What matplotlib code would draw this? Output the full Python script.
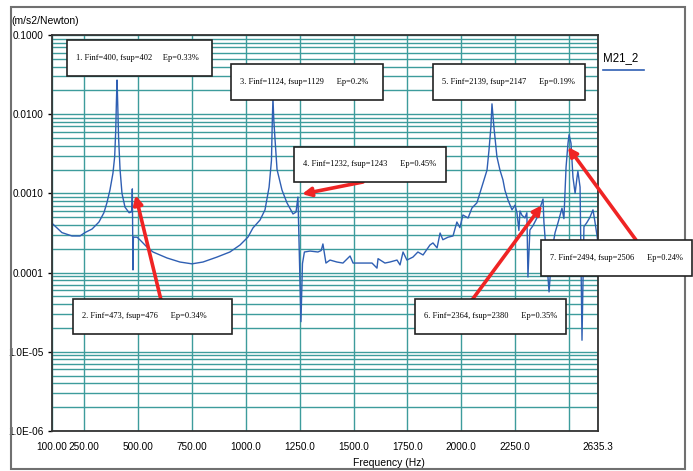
import numpy as np
import matplotlib.pyplot as plt
from matplotlib.patches import Rectangle
from matplotlib.lines import Line2D

# FRF magnitude, M21_2
freq_hz = [100, 146, 193, 230, 253, 286, 318, 341, 355, 369, 383, 391, 396, 399, 402, 405, 409, 416,
           425, 439, 458, 467, 471, 473, 476, 478, 495, 509, 541, 569, 601, 634, 694, 750, 801, 866,
           926, 973, 1010, 1033, 1066, 1089, 1108, 1119, 1123, 1126, 1130, 1135, 1145, 1168, 1191,
           1219, 1233, 1242, 1256, 1263, 1272, 1298, 1335, 1350, 1358, 1372, 1391, 1423, 1451, 1484,
           1498, 1530, 1563, 1586, 1609, 1614, 1646, 1669, 1702, 1716, 1730, 1748, 1776, 1799, 1823,
           1855, 1869, 1888, 1902, 1915, 1939, 1962, 1980, 1994, 2008, 2032, 2050, 2073, 2087, 2101,
           2120, 2129, 2138, 2143, 2152, 2166, 2180, 2194, 2203, 2217, 2236, 2250, 2259, 2268, 2273,
           2282, 2296, 2305, 2310, 2319, 2333, 2352, 2366, 2380, 2384, 2394, 2408, 2422, 2436, 2450,
           2468, 2477, 2487, 2496, 2501, 2510, 2519, 2529, 2538, 2542, 2552, 2561, 2570, 2584, 2598,
           2612, 2621, 2631, 2635]
accel = [4.2e-4, 3.2e-4, 2.9e-4, 2.9e-4, 3.2e-4, 3.55e-4, 4.35e-4, 5.7e-4, 7.6e-4, 1.1e-3, 1.8e-3,
         2.9e-3, 6.3e-3, 1.4e-2, 2.7e-2, 1.4e-2, 5.2e-3, 2.0e-3, 1.0e-3, 6.7e-4, 5.7e-4, 5.8e-4,
         6.2e-4, 1.14e-3, 1.08e-4, 2.8e-4, 2.8e-4, 2.58e-4, 2.1e-4, 1.82e-4, 1.67e-4, 1.53e-4,
         1.36e-4, 1.29e-4, 1.36e-4, 1.57e-4, 1.82e-4, 2.23e-4, 2.81e-4, 3.66e-4, 4.61e-4, 6.2e-4,
         1.2e-3, 2.6e-3, 8.4e-3, 1.6e-2, 8.4e-3, 5.1e-3, 2.0e-3, 1.1e-3, 7.6e-4, 5.5e-4, 5.8e-4,
         9.0e-4, 2.4e-5, 1.3e-4, 1.82e-4, 1.87e-4, 1.82e-4, 1.9e-4, 2.3e-4, 1.32e-4, 1.44e-4,
         1.36e-4, 1.32e-4, 1.62e-4, 1.32e-4, 1.32e-4, 1.32e-4, 1.32e-4, 1.14e-4, 1.5e-4, 1.32e-4,
         1.36e-4, 1.44e-4, 1.25e-4, 1.82e-4, 1.44e-4, 1.57e-4, 1.82e-4, 1.67e-4, 2.23e-4, 2.37e-4,
         2.05e-4, 3.16e-4, 2.6e-4, 2.8e-4, 2.9e-4, 4.35e-4, 3.7e-4, 5.34e-4, 4.89e-4, 6.54e-4,
         7.6e-4, 1.01e-3, 1.35e-3, 1.97e-3, 3.5e-3, 6.9e-3, 1.35e-2, 6.9e-3, 2.9e-3, 1.97e-3,
         1.48e-3, 1.1e-3, 8.3e-4, 6.2e-4, 7.1e-4, 5.7e-4, 3.4e-4, 6.0e-4, 5.3e-4, 4.9e-4, 5.7e-4,
         8.8e-5, 3.45e-4, 3.9e-4, 4.9e-4, 6.5e-4, 8.5e-4, 4.4e-4, 1.9e-4, 5.7e-5, 1.93e-4, 3.2e-4,
         4.3e-4, 6.5e-4, 4.8e-4, 2.15e-3, 4.3e-3, 5.5e-3, 4.3e-3, 1.6e-3, 1.0e-3, 1.6e-3, 1.9e-3,
         1.2e-3, 1.4e-5, 3.8e-4, 4.3e-4, 5.0e-4, 6.2e-4, 4.4e-4, 2.9e-4, 2.4e-4]

x_ticks = [100, 250, 500, 750, 1000, 1250, 1500, 1750, 2000, 2250, 2500, 2635.3]
x_tick_labels = ['100.00', '250.00', '500.00', '750.00', '1000.0', '1250.0', '1500.0', '1750.0',
                 '2000.0', '2250.0', '', '2635.3']
y_ticks = [1e-1, 1e-2, 1e-3, 1e-4, 1e-5, 1e-6]
y_tick_labels = ['0.1000', '0.0100', '0.0010', '0.0001', '1.0E-05', '1.0E-06']

# annotation texts and the points they point at
notes = ['1. Finf=400, fsup=402     Ep=0.33%',
         '2. Finf=473, fsup=476      Ep=0.34%',
         '3. Finf=1124, fsup=1129      Ep=0.2%',
         '4. Finf=1232, fsup=1243      Ep=0.45%',
         '5. Finf=2139, fsup=2147      Ep=0.19%',
         '6. Finf=2364, fsup=2380      Ep=0.35%',
         '7. Finf=2494, fsup=2506      Ep=0.24%']
arrow_targets = {1: (488, 9.5e-4), 3: (1261, 9.8e-4), 5: (2375, 7.1e-4), 6: (2496, 3.85e-3)}

W, H = 693, 471
def fx(px):
    return px / W
def fy(py):
    return 1 - py / H

sans = ['Liberation Sans Narrow', 'Liberation Sans', 'DejaVu Sans']
serif = ['Liberation Serif', 'DejaVu Serif']
line_col = '#2f5fb3'
grid_col = '#3d9c9c'
red = '#ef2424'

fig = plt.figure(figsize=(6.93, 4.71), dpi=100)
ax = fig.add_axes([fx(52), fy(431), fx(598) - fx(52), fy(35) - fy(431)])

ax.plot(freq_hz, accel, color=line_col, lw=1.0, zorder=3)
ax.set_yscale('log')
ax.set_xlim(100, 2635.3)
ax.set_ylim(1e-6, 1e-1)

ax.set_xticks(x_ticks)
ax.set_xticklabels(x_tick_labels, family=sans, fontsize=7.2)
ax.set_yticks(y_ticks)
ax.set_yticklabels(y_tick_labels, family=sans, fontsize=7.2)
ax.tick_params(axis='x', length=0, pad=8)
ax.tick_params(axis='y', which='major', length=3, width=1, pad=3)
ax.tick_params(axis='y', which='minor', length=0)
ax.grid(True, which='major', axis='x', color=grid_col, lw=1.0)
ax.grid(True, which='both', axis='y', color=grid_col, lw=1.0)
ax.set_axisbelow(True)
for s in ax.spines.values():
    s.set_color('#333333')
    s.set_linewidth(1.3)
    s.set_zorder(6)

# outer frame
fig.patches.append(Rectangle((fx(11), fy(469)), fx(685) - fx(11), fy(7) - fy(469),
                             transform=fig.transFigure, fill=False, ec='#707070', lw=1.5))

fig.text(fx(11), fy(21), '(m/s2/Newton)', family=sans, fontsize=7.5, va='center', ha='left')
fig.text(fx(353), fy(463), 'Frequency (Hz)', family=sans, fontsize=7.5, va='center', ha='left')

# legend
fig.text(fx(603), fy(58), 'M21_2', family=sans, fontsize=8.3, va='center', ha='left')
fig.lines.append(Line2D([fx(603), fx(644)], [fy(70), fy(70)], transform=fig.transFigure,
                        color=line_col, lw=1.2))

# annotation boxes (pixel boxes: left, top, right, bottom)
boxes = [(67, 40, 212, 76), (73, 299, 232, 334), (231, 64, 383, 100), (294, 147, 446, 182),
         (433, 64, 585, 100), (415, 299, 566, 334), (541, 240, 692, 276)]
for (l, t, r, b), txt in zip(boxes, notes):
    fig.patches.append(Rectangle((fx(l), fy(b)), fx(r) - fx(l), fy(t) - fy(b),
                                 transform=fig.transFigure, fc='white', ec='#222222',
                                 lw=1.2, zorder=7))
    fig.text(fx(l + 9), fy((t + b) / 2), txt, family=serif, fontsize=6,
             va='center', ha='left', zorder=8)

# arrows from boxes to the peaks
arrow_tails = {1: (161, 300), 3: (363, 182), 5: (472, 300), 6: (636, 240)}
for i, (px, py) in arrow_tails.items():
    ax.annotate('', xy=arrow_targets[i], xycoords='data',
                xytext=(fx(px), fy(py)), textcoords='figure fraction',
                arrowprops=dict(arrowstyle='-|>', color=red, lw=2.6, mutation_scale=13,
                                shrinkA=0, shrinkB=0),
                annotation_clip=False, zorder=9)

fig.savefig('out.png', dpi=100)
